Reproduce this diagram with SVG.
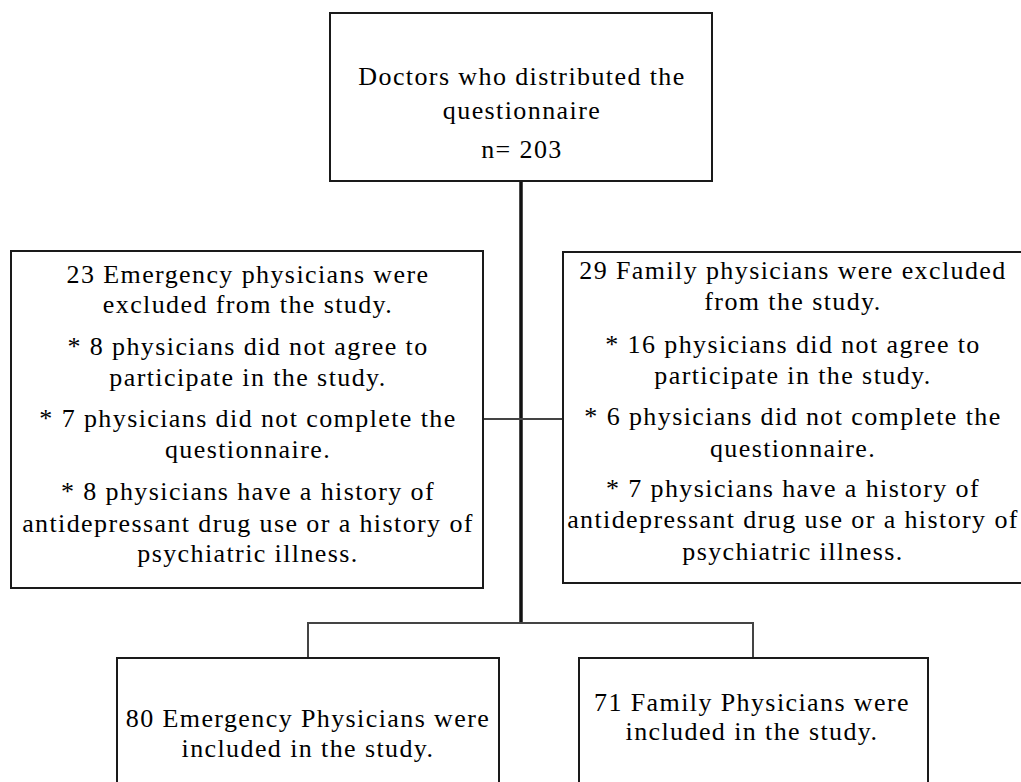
<svg xmlns="http://www.w3.org/2000/svg" width="1021" height="782" viewBox="0 0 1021 782">
<style>
.box{fill:#fff;stroke:#1a1a1a;stroke-width:2}
.t{font-family:"Liberation Serif","Times New Roman",serif;font-size:26px;letter-spacing:1.4px;fill:#000;text-anchor:middle}
.c{fill:none;stroke:#444;stroke-width:2}
.main{fill:none;stroke:#111;stroke-width:3.5}
</style>
<rect width="1021" height="782" fill="#fff"/>
<g id="connectors">
<line class="main" x1="521" y1="181" x2="521" y2="623"/>
<line class="c" x1="483" y1="419" x2="563" y2="419"/>
<polyline class="c" points="308,658 308,623 753,623 753,658"/>
</g>
<g id="top">
<rect class="box" x="330" y="13" width="382" height="168"/>
<text class="t" x="522" y="85">Doctors who distributed the</text>
<text class="t" x="522" y="119">questionnaire</text>
<text class="t" x="522" y="158">n= 203</text>
</g>
<g id="excl-emergency">
<rect class="box" x="11" y="251" width="472" height="337"/>
<text class="t" x="248" y="283">23 Emergency physicians were</text>
<text class="t" x="248" y="313">excluded from the study.</text>
<text class="t" x="248" y="355">* 8 physicians did not agree to</text>
<text class="t" x="248" y="386">participate in the study.</text>
<text class="t" x="248" y="427">* 7 physicians did not complete the</text>
<text class="t" x="248" y="458">questionnaire.</text>
<text class="t" x="248" y="500">* 8 physicians have a history of</text>
<text class="t" x="248" y="532">antidepressant drug use or a history of</text>
<text class="t" x="248" y="562">psychiatric illness.</text>
</g>
<g id="excl-family">
<rect class="box" x="563" y="252" width="470" height="331"/>
<text class="t" x="793" y="279">29 Family physicians were excluded</text>
<text class="t" x="793" y="310">from the study.</text>
<text class="t" x="793" y="353">* 16 physicians did not agree to</text>
<text class="t" x="793" y="384">participate in the study.</text>
<text class="t" x="793" y="425">* 6 physicians did not complete the</text>
<text class="t" x="793" y="457">questionnaire.</text>
<text class="t" x="793" y="497">* 7 physicians have a history of</text>
<text class="t" x="793" y="528">antidepressant drug use or a history of</text>
<text class="t" x="793" y="560">psychiatric illness.</text>
</g>
<g id="incl-emergency">
<rect class="box" x="117" y="658" width="382" height="140"/>
<text class="t" x="308" y="727">80 Emergency Physicians were</text>
<text class="t" x="308" y="757">included in the study.</text>
</g>
<g id="incl-family">
<rect class="box" x="579" y="658" width="349" height="140"/>
<text class="t" x="752" y="711">71 Family Physicians were</text>
<text class="t" x="752" y="740">included in the study.</text>
</g>
</svg>
